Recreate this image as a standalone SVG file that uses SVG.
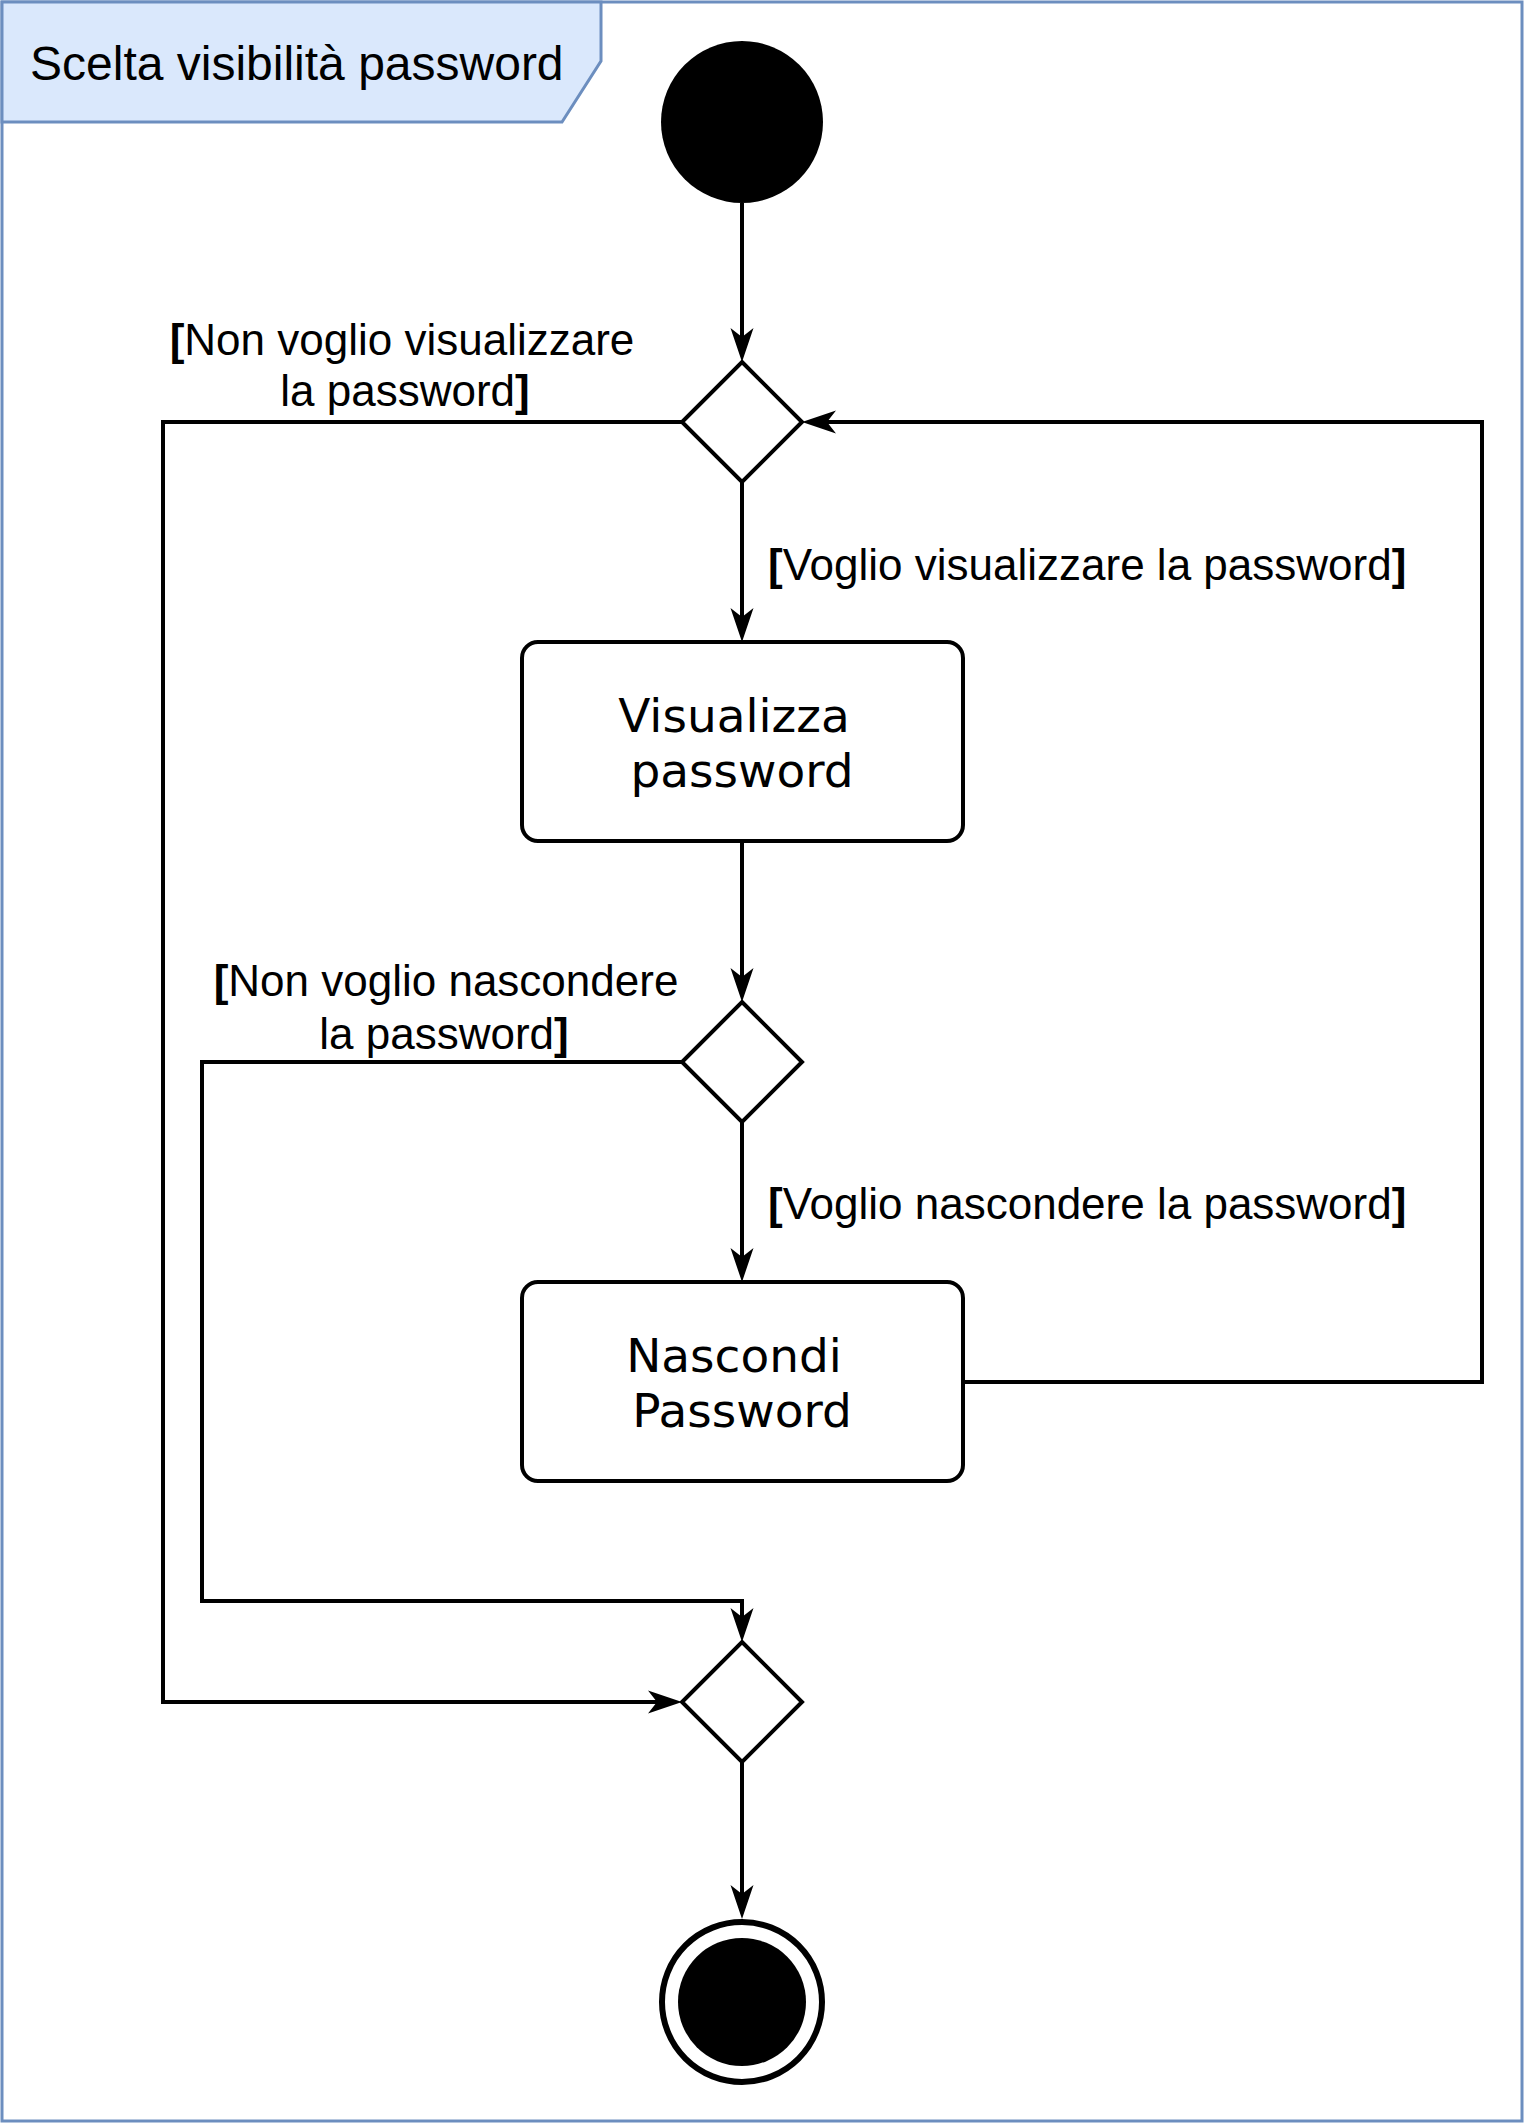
<svg xmlns="http://www.w3.org/2000/svg" width="1524" height="2124" viewBox="0 0 1524 2124">
<style>
.frame{fill:#ffffff;stroke:#6c8ebf;stroke-width:3}
.tab{fill:#dae8fc;stroke:#6c8ebf;stroke-width:3}
.title{font-family:"Liberation Sans",Arial,sans-serif;font-size:48px;fill:#000}
.node{fill:#ffffff;stroke:#000;stroke-width:4}
.solid{fill:#000;stroke:none}
.ntext{font-family:"DejaVu Sans",sans-serif;font-size:47px;fill:#000;text-anchor:middle}
.lbl{font-family:"Liberation Sans",Arial,sans-serif;font-size:44px;fill:#000}
.b{font-weight:bold}
.edge{fill:none;stroke:#000;stroke-width:4;marker-end:url(#arrow)}
</style>
<defs>
<marker id="arrow" markerUnits="userSpaceOnUse" markerWidth="34" markerHeight="24" viewBox="-34 -12 34 24" refX="-8" refY="0" orient="auto">
<path d="M0,0 L-34,-11.5 L-25,0 L-34,11.5 Z" fill="#000"/>
</marker>
</defs>
<rect x="0" y="0" width="1524" height="2124" fill="#ffffff"/>
<g id="frame">
<rect class="frame" x="2" y="2" width="1520" height="2119"/>
<path class="tab" d="M2,2 L601,2 L601,61 L562,122 L2,122 Z"/>
<text class="title" x="30" y="80">Scelta visibilità password</text>
</g>
<g id="connectors">
<path class="edge" d="M742,203 L742,354"/>
<path class="edge" d="M742,482 L742,634"/>
<path class="edge" d="M742,841 L742,994"/>
<path class="edge" d="M742,1122 L742,1274"/>
<path class="edge" d="M963,1382 L1482,1382 L1482,422 L810,422"/>
<path class="edge" d="M682,422 L163,422 L163,1702 L674,1702"/>
<path class="edge" d="M682,1062 L202,1062 L202,1601 L742,1601 L742,1634"/>
<path class="edge" d="M742,1762 L742,1911"/>
<text class="lbl" x="402" y="355" text-anchor="middle"><tspan class="b">[</tspan>Non voglio visualizzare</text>
<text class="lbl" x="405" y="406" text-anchor="middle">la password<tspan class="b">]</tspan></text>
<text class="lbl" x="768" y="580"><tspan class="b">[</tspan>Voglio visualizzare la password<tspan class="b">]</tspan></text>
<text class="lbl" x="446" y="996" text-anchor="middle"><tspan class="b">[</tspan>Non voglio nascondere</text>
<text class="lbl" x="444" y="1049" text-anchor="middle">la password<tspan class="b">]</tspan></text>
<text class="lbl" x="768" y="1219"><tspan class="b">[</tspan>Voglio nascondere la password<tspan class="b">]</tspan></text>
</g>
<g id="start">
<circle class="solid" cx="742" cy="122" r="81"/>
</g>
<g id="decision1">
<path class="node" d="M742,362 L802,422 L742,482 L682,422 Z"/>
</g>
<g id="visualizza">
<rect class="node" x="522" y="642" width="441" height="199" rx="16" ry="16"/>
<text class="ntext" x="734" y="732">Visualizza</text>
<text class="ntext" x="742" y="787">password</text>
</g>
<g id="decision2">
<path class="node" d="M742,1002 L802,1062 L742,1122 L682,1062 Z"/>
</g>
<g id="nascondi">
<rect class="node" x="522" y="1282" width="441" height="199" rx="16" ry="16"/>
<text class="ntext" x="734" y="1372">Nascondi</text>
<text class="ntext" x="742" y="1427">Password</text>
</g>
<g id="merge">
<path class="node" d="M742,1642 L802,1702 L742,1762 L682,1702 Z"/>
</g>
<g id="end">
<circle cx="742" cy="2002" r="80" fill="#ffffff" stroke="#000" stroke-width="6"/>
<circle class="solid" cx="742" cy="2002" r="64"/>
</g>
</svg>
